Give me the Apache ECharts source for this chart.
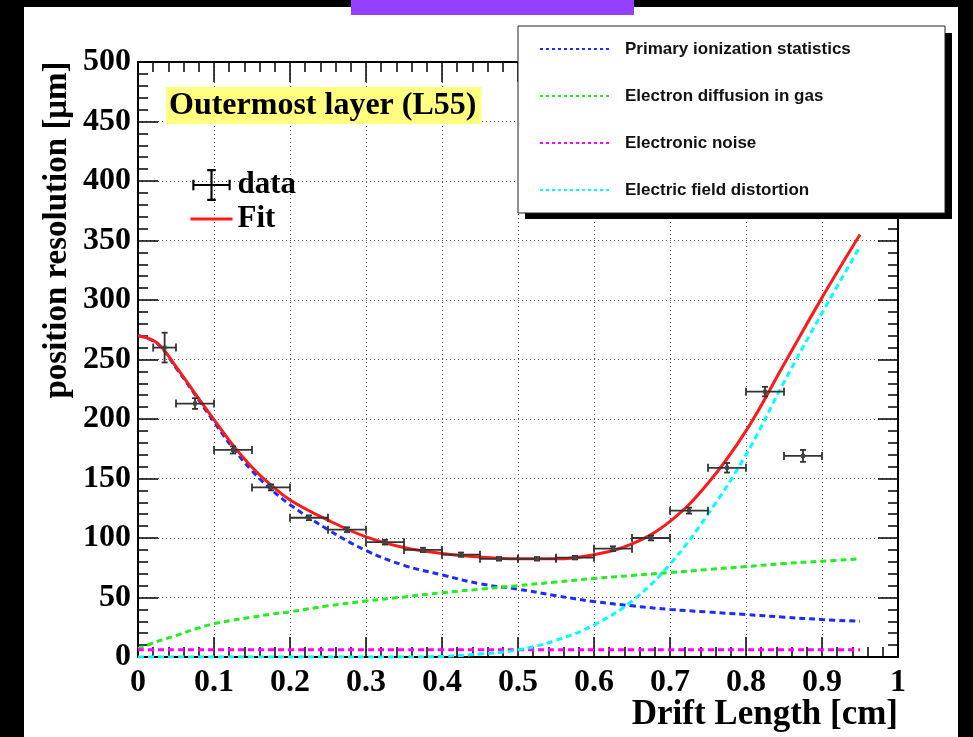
<!DOCTYPE html>
<html>
<head>
<meta charset="utf-8">
<script src="https://cdn.jsdelivr.net/npm/echarts@6/dist/echarts.min.js"></script>
<style>
  html, body { margin: 0; padding: 0; background: #000; }
  #chart { width: 973px; height: 737px; }
</style>
</head>
<body>
<div id="chart"></div>
<script>
// measured points (bin centre, half bin width, resolution, error)
const binCenters = [0.035, 0.075, 0.125, 0.175, 0.225, 0.275, 0.325, 0.375, 0.425, 0.475, 0.525, 0.575, 0.625, 0.675, 0.725, 0.775, 0.825, 0.875]
const binHalfWidths = [0.015, 0.025, 0.025, 0.025, 0.025, 0.025, 0.025, 0.025, 0.025, 0.025, 0.025, 0.025, 0.025, 0.025, 0.025, 0.025, 0.025, 0.025]
const resolution = [260, 213, 174, 142.5, 117, 107, 96.5, 90, 86, 82.5, 82.5, 83.5, 91, 100, 123, 159, 223, 169]
const resolutionErr = [12.5, 4.5, 3, 2.5, 2, 2, 2, 1.8, 1.8, 1.5, 1.5, 1.5, 2, 2, 2.5, 4, 4, 5]

// curves
const curveX = [0, 0.025, 0.05, 0.075, 0.1, 0.125, 0.15, 0.175, 0.2, 0.25, 0.3, 0.35, 0.4, 0.45, 0.5, 0.55, 0.6, 0.65, 0.7, 0.75, 0.8, 0.85, 0.9, 0.95]
const fitCurve = [270, 264, 244, 221.5, 199.5, 178, 159.5, 144.5, 132, 115, 101, 92, 87, 84, 82.5, 82.5, 86, 95, 114, 146, 190, 246, 302, 355]
const primaryIonization = [270, 263.5, 243, 220.5, 197.5, 175.5, 156.5, 141, 128, 107, 89.5, 77, 69, 61.5, 57, 51.5, 46.6, 43, 40, 37.8, 35.7, 33.5, 31.5, 30]
const electronDiffusion = [7, 13, 18, 23.5, 28, 31, 33.5, 36, 38, 43, 47, 50.5, 54, 57, 60, 63, 66, 68.5, 71, 73.5, 76, 78.5, 80.5, 82.5]
const electronicNoise = [6, 6, 6, 6, 6, 6, 6, 6, 6, 6, 6, 6, 6, 6, 6, 6, 6, 6, 6, 6, 6, 6, 6, 6]
const fieldDistortion = [0, 0, 0, 0, 0, 0, 0, 0, 0, 0, 0, 0, 0.5, 2.5, 6, 14, 27, 47, 78, 120, 170, 231, 289, 345]

const xTicks = { min: 0, max: 1, interval: 0.1 }
const yTicks = { min: 0, max: 500, interval: 50 }

const SERIF = 'Liberation Serif'
const SANS = 'Liberation Sans'

function pairs(xs, ys) {
  return xs.map((x, i) => [x, ys[i]])
}

function renderErrorBar(params, api) {
  const x = api.value(0)
  const y = api.value(1)
  const dx = api.value(2)
  const dy = api.value(3)
  const c = api.coord([x, y])
  const l = api.coord([x - dx, y])
  const r = api.coord([x + dx, y])
  const t = api.coord([x, y + dy])
  const b = api.coord([x, y - dy])
  const style = { stroke: '#333', lineWidth: 1.8 }
  const seg = (x1, y1, x2, y2) => ({ type: 'line', shape: { x1, y1, x2, y2 }, style })
  return {
    type: 'group',
    children: [
      seg(l[0], c[1], r[0], c[1]),
      seg(l[0], c[1] - 4, l[0], c[1] + 4),
      seg(r[0], c[1] - 4, r[0], c[1] + 4),
      seg(c[0], t[1], c[0], b[1]),
      seg(c[0] - 3, t[1], c[0] + 3, t[1]),
      seg(c[0] - 3, b[1], c[0] + 3, b[1]),
      { type: 'rect', shape: { x: c[0] - 2, y: c[1] - 2, width: 4, height: 4 }, style: { fill: '#444' } }
    ]
  }
}

const chart = echarts.init(document.getElementById('chart'), null, { renderer: 'canvas' })

const dashed = (name, data, color) => ({
  name,
  type: 'line',
  data,
  symbol: 'none',
  smooth: 0.4,
  lineStyle: { color, width: 3, type: [6, 4] },
  itemStyle: { color },
  z: 3
})

const mirrorTick = { show: true, inside: true, length: 20, lineStyle: { color: '#000', width: 1.5 } }
const mirrorMinor = { show: true, splitNumber: 5, length: 10, lineStyle: { color: '#000', width: 1.5 } }

chart.setOption({
  backgroundColor: '#000',
  animation: false,
  title: {
    text: 'Outermost layer (L55)',
    left: 166,
    top: 87,
    backgroundColor: '#ffff80',
    padding: [2, 5, 2, 3],
    textStyle: { fontFamily: SERIF, fontWeight: 'bold', fontSize: 32, color: '#000', lineHeight: 33 }
  },
  graphic: [
    { type: 'rect', z: -100, shape: { x: 24, y: 7, width: 934, height: 730 }, style: { fill: '#fff' } },
    { type: 'rect', z: 100, shape: { x: 351, y: 0, width: 283, height: 15 }, style: { fill: '#9440ff' } },
    { type: 'rect', z: 20, shape: { x: 525, y: 33, width: 427, height: 186 }, style: { fill: '#000' } },
    { type: 'rect', z: 21, shape: { x: 518, y: 26, width: 427, height: 187 }, style: { fill: '#fff', stroke: '#222', lineWidth: 1 } }
  ],
  legend: [
    {
      data: ['Primary ionization statistics', 'Electron diffusion in gas', 'Electronic noise', 'Electric field distortion'],
      orient: 'vertical',
      left: 534,
      top: 34,
      itemWidth: 72,
      itemHeight: 20,
      itemGap: 27,
      selectedMode: false,
      z: 30,
      itemStyle: { opacity: 0 },
      lineStyle: { width: 2, type: [3, 3] },
      textStyle: { fontFamily: SANS, fontWeight: 'bold', fontSize: 17, color: '#111', lineHeight: 20, padding: [0, 0, 0, 8] }
    },
    {
      data: [
        { name: 'data', icon: 'path://M2,14h36v2h-36z M2,10h2v10h-2z M36,10h2v10h-2z M19,0h2v30h-2z M16,0h8v2h-8z M16,28h8v2h-8z' },
        { name: 'Fit', itemStyle: { opacity: 0 } }
      ],
      orient: 'vertical',
      left: 184,
      top: 164,
      itemWidth: 42,
      itemHeight: 32,
      itemGap: 2,
      selectedMode: false,
      z: 30,
      lineStyle: { width: 3 },
      textStyle: { fontFamily: SERIF, fontWeight: 'bold', fontSize: 31, color: '#000', lineHeight: 32 }
    }
  ],
  grid: { left: 138, top: 62, width: 760, height: 595, containLabel: false, outerBoundsMode: 'none' },
  xAxis: [
    {
      type: 'value',
      min: xTicks.min,
      max: xTicks.max,
      interval: xTicks.interval,
      name: 'Drift Length [cm]',
      nameLocation: 'end',
      nameGap: 0,
      nameMoveOverlap: false,
      nameTextStyle: { fontFamily: SERIF, fontWeight: 'bold', fontSize: 35, color: '#000', align: 'right', verticalAlign: 'top', padding: [40, 0, 0, 0] },
      axisLine: { show: true, onZero: false, lineStyle: { color: '#000', width: 2 } },
      axisTick: { show: true, inside: true, length: 20, lineStyle: { color: '#000', width: 1.5 } },
      minorTick: { show: true, splitNumber: 5, length: 10, lineStyle: { color: '#000', width: 1.5 } },
      axisLabel: { show: true, margin: 10, showMinLabel: true, showMaxLabel: true, fontFamily: SERIF, fontWeight: 'bold', fontSize: 32, color: '#000' },
      splitLine: { show: true, lineStyle: { color: '#555', width: 1, type: [1, 3] } }
    },
    {
      type: 'value',
      position: 'top',
      min: xTicks.min,
      max: xTicks.max,
      interval: xTicks.interval,
      axisLine: { show: true, onZero: false, lineStyle: { color: '#000', width: 2 } },
      axisTick: mirrorTick,
      minorTick: mirrorMinor,
      axisLabel: { show: false },
      splitLine: { show: false }
    }
  ],
  yAxis: [
    {
      type: 'value',
      min: yTicks.min,
      max: yTicks.max,
      interval: yTicks.interval,
      name: 'position resolution [μm]',
      nameLocation: 'middle',
      nameGap: 64,
      nameRotate: 90,
      nameMoveOverlap: false,
      nameTextStyle: { fontFamily: SERIF, fontWeight: 'bold', fontSize: 33, color: '#000', padding: [0, 0, 0, 259] },
      axisLine: { show: true, onZero: false, lineStyle: { color: '#000', width: 2 } },
      axisTick: { show: true, inside: true, length: 20, lineStyle: { color: '#000', width: 1.5 } },
      minorTick: { show: true, splitNumber: 5, length: 10, lineStyle: { color: '#000', width: 1.5 } },
      axisLabel: { show: true, margin: 7, showMinLabel: true, showMaxLabel: true, fontFamily: SERIF, fontWeight: 'bold', fontSize: 32, color: '#000' },
      splitLine: { show: true, lineStyle: { color: '#555', width: 1, type: [1, 3] } }
    },
    {
      type: 'value',
      position: 'right',
      min: yTicks.min,
      max: yTicks.max,
      interval: yTicks.interval,
      axisLine: { show: true, onZero: false, lineStyle: { color: '#000', width: 2 } },
      axisTick: mirrorTick,
      minorTick: mirrorMinor,
      axisLabel: { show: false },
      splitLine: { show: false }
    }
  ],
  series: [
    dashed('Primary ionization statistics', pairs(curveX, primaryIonization), '#1a2cff'),
    dashed('Electron diffusion in gas', pairs(curveX, electronDiffusion), '#22ee22'),
    dashed('Electronic noise', pairs(curveX, electronicNoise), '#ff00ff'),
    dashed('Electric field distortion', pairs(curveX, fieldDistortion), '#00ffff'),
    {
      name: 'Fit',
      type: 'line',
      data: pairs(curveX, fitCurve),
      symbol: 'none',
      smooth: 0.4,
      lineStyle: { color: '#ff1a1a', width: 3 },
      itemStyle: { color: '#ff1a1a' },
      z: 4
    },
    {
      name: 'data',
      type: 'custom',
      renderItem: renderErrorBar,
      itemStyle: { color: '#000' },
      encode: { x: 0, y: 1 },
      data: binCenters.map((x, i) => [x, resolution[i], binHalfWidths[i], resolutionErr[i]]),
      z: 5
    }
  ]
})
</script>
</body>
</html>
